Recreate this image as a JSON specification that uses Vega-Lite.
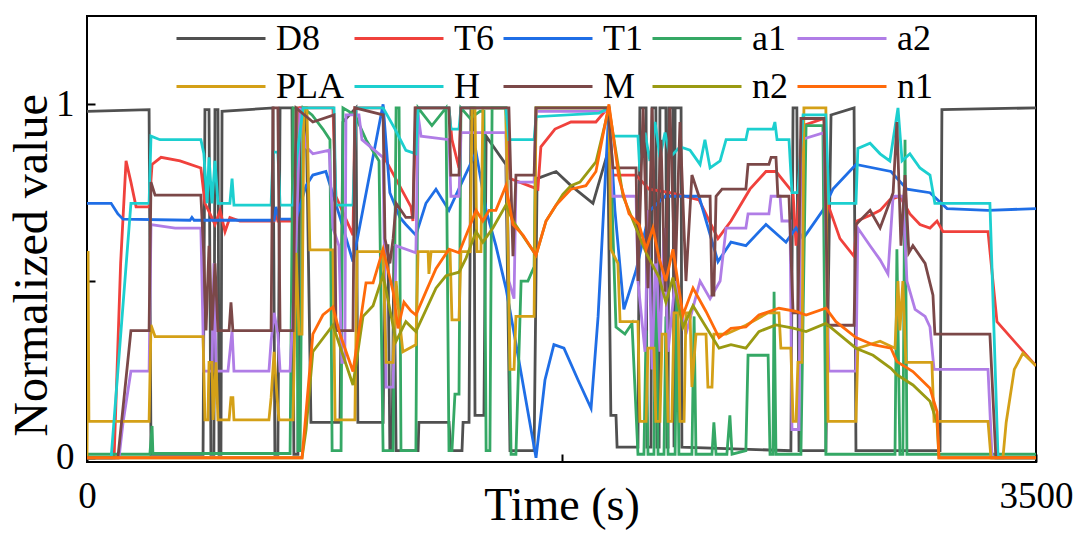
{
  "$schema": "https://vega.github.io/schema/vega-lite/v6.json",
  "width": 949,
  "height": 446,
  "autosize": {"type": "none"},
  "padding": {"left": 87, "top": 16, "right": 44, "bottom": 75},
  "background": "white",
  "data": {
    "values": [
      {"s":"D8","t":0,"v":0.98},{"s":"D8","t":229,"v":0.985},{"s":"D8","t":236,"v":0.01},{"s":"D8","t":428,"v":0.01},{"s":"D8","t":435,"v":0.985},{"s":"D8","t":450,"v":0.985},{"s":"D8","t":457,"v":0.01},{"s":"D8","t":468,"v":0.01},{"s":"D8","t":472,"v":0.985},{"s":"D8","t":483,"v":0.985},{"s":"D8","t":487,"v":0.01},{"s":"D8","t":494,"v":0.01},{"s":"D8","t":498,"v":0.98},{"s":"D8","t":686,"v":0.99},{"s":"D8","t":693,"v":0.01},{"s":"D8","t":704,"v":0.01},{"s":"D8","t":712,"v":0.99},{"s":"D8","t":756,"v":0.99},{"s":"D8","t":763,"v":0.01},{"s":"D8","t":778,"v":0.01},{"s":"D8","t":786,"v":0.99},{"s":"D8","t":808,"v":0.99},{"s":"D8","t":826,"v":0.1},{"s":"D8","t":933,"v":0.1},{"s":"D8","t":944,"v":0.95},{"s":"D8","t":992,"v":0.99},{"s":"D8","t":999,"v":0.1},{"s":"D8","t":1092,"v":0.1},{"s":"D8","t":1099,"v":0.6},{"s":"D8","t":1110,"v":0.6},{"s":"D8","t":1117,"v":0.02},{"s":"D8","t":1125,"v":0.02},{"s":"D8","t":1132,"v":0.6},{"s":"D8","t":1140,"v":0.02},{"s":"D8","t":1221,"v":0.02},{"s":"D8","t":1224,"v":0.1},{"s":"D8","t":1335,"v":0.1},{"s":"D8","t":1342,"v":0.02},{"s":"D8","t":1383,"v":0.02},{"s":"D8","t":1387,"v":0.1},{"s":"D8","t":1409,"v":0.1},{"s":"D8","t":1416,"v":0.99},{"s":"D8","t":1427,"v":0.99},{"s":"D8","t":1431,"v":0.12},{"s":"D8","t":1464,"v":0.12},{"s":"D8","t":1472,"v":0.91},{"s":"D8","t":1545,"v":0.83},{"s":"D8","t":1560,"v":0.02},{"s":"D8","t":1649,"v":0.02},{"s":"D8","t":1660,"v":0.79},{"s":"D8","t":1730,"v":0.81},{"s":"D8","t":1785,"v":0.77},{"s":"D8","t":1866,"v":0.72},{"s":"D8","t":1921,"v":0.865},{"s":"D8","t":1932,"v":0.12},{"s":"D8","t":1951,"v":0.12},{"s":"D8","t":1955,"v":0.03},{"s":"D8","t":2032,"v":0.03},{"s":"D8","t":2039,"v":0.99},{"s":"D8","t":2062,"v":0.99},{"s":"D8","t":2065,"v":0.03},{"s":"D8","t":2080,"v":0.03},{"s":"D8","t":2084,"v":0.99},{"s":"D8","t":2098,"v":0.99},{"s":"D8","t":2102,"v":0.03},{"s":"D8","t":2110,"v":0.03},{"s":"D8","t":2113,"v":0.99},{"s":"D8","t":2135,"v":0.99},{"s":"D8","t":2139,"v":0.03},{"s":"D8","t":2143,"v":0.03},{"s":"D8","t":2146,"v":0.99},{"s":"D8","t":2161,"v":0.99},{"s":"D8","t":2165,"v":0.03},{"s":"D8","t":2169,"v":0.99},{"s":"D8","t":2191,"v":0.99},{"s":"D8","t":2194,"v":0.03},{"s":"D8","t":2596,"v":0.02},{"s":"D8","t":2604,"v":0.99},{"s":"D8","t":2618,"v":0.99},{"s":"D8","t":2626,"v":0.02},{"s":"D8","t":2725,"v":0.02},{"s":"D8","t":2744,"v":0.97},{"s":"D8","t":2829,"v":0.99},{"s":"D8","t":2836,"v":0.02},{"s":"D8","t":3146,"v":0.02},{"s":"D8","t":3153,"v":0.985},{"s":"D8","t":3500,"v":0.99},

      {"s":"T6","t":0,"v":0},{"s":"T6","t":100,"v":0},{"s":"T6","t":124,"v":0.55},{"s":"T6","t":144,"v":0.84},{"s":"T6","t":162,"v":0.78},{"s":"T6","t":181,"v":0.71},{"s":"T6","t":229,"v":0.71},{"s":"T6","t":240,"v":0.83},{"s":"T6","t":273,"v":0.85},{"s":"T6","t":343,"v":0.84},{"s":"T6","t":420,"v":0.82},{"s":"T6","t":435,"v":0.72},{"s":"T6","t":454,"v":0.69},{"s":"T6","t":472,"v":0.66},{"s":"T6","t":491,"v":0.7},{"s":"T6","t":509,"v":0.64},{"s":"T6","t":527,"v":0.68},{"s":"T6","t":564,"v":0.67},{"s":"T6","t":690,"v":0.67},{"s":"T6","t":697,"v":0.69},{"s":"T6","t":704,"v":0.67},{"s":"T6","t":767,"v":0.67},{"s":"T6","t":778,"v":0.99},{"s":"T6","t":907,"v":0.99},{"s":"T6","t":918,"v":0.74},{"s":"T6","t":981,"v":0.63},{"s":"T6","t":988,"v":0.99},{"s":"T6","t":1092,"v":0.99},{"s":"T6","t":1103,"v":0.84},{"s":"T6","t":1195,"v":0.71},{"s":"T6","t":1202,"v":0.67},{"s":"T6","t":1213,"v":0.99},{"s":"T6","t":1335,"v":0.99},{"s":"T6","t":1346,"v":0.9},{"s":"T6","t":1372,"v":0.82},{"s":"T6","t":1379,"v":0.99},{"s":"T6","t":1545,"v":0.99},{"s":"T6","t":1560,"v":0.79},{"s":"T6","t":1663,"v":0.76},{"s":"T6","t":1674,"v":0.88},{"s":"T6","t":1726,"v":0.93},{"s":"T6","t":1785,"v":0.95},{"s":"T6","t":1877,"v":0.95},{"s":"T6","t":1921,"v":0.99},{"s":"T6","t":1932,"v":0.8},{"s":"T6","t":2025,"v":0.8},{"s":"T6","t":2073,"v":0.76},{"s":"T6","t":2150,"v":0.75},{"s":"T6","t":2257,"v":0.73},{"s":"T6","t":2327,"v":0.62},{"s":"T6","t":2375,"v":0.67},{"s":"T6","t":2445,"v":0.76},{"s":"T6","t":2504,"v":0.81},{"s":"T6","t":2541,"v":0.81},{"s":"T6","t":2604,"v":0.75},{"s":"T6","t":2615,"v":0.6},{"s":"T6","t":2641,"v":0.94},{"s":"T6","t":2718,"v":0.96},{"s":"T6","t":2736,"v":0.71},{"s":"T6","t":2777,"v":0.62},{"s":"T6","t":2829,"v":0.57},{"s":"T6","t":2840,"v":0.67},{"s":"T6","t":2899,"v":0.69},{"s":"T6","t":2925,"v":0.7},{"s":"T6","t":2961,"v":0.73},{"s":"T6","t":2998,"v":0.74},{"s":"T6","t":3035,"v":0.69},{"s":"T6","t":3072,"v":0.66},{"s":"T6","t":3109,"v":0.65},{"s":"T6","t":3135,"v":0.67},{"s":"T6","t":3157,"v":0.64},{"s":"T6","t":3323,"v":0.64},{"s":"T6","t":3356,"v":0.385},{"s":"T6","t":3500,"v":0.26},

      {"s":"T1","t":0,"v":0.72},{"s":"T1","t":89,"v":0.72},{"s":"T1","t":114,"v":0.69},{"s":"T1","t":133,"v":0.675},{"s":"T1","t":380,"v":0.672},{"s":"T1","t":387,"v":0.68},{"s":"T1","t":395,"v":0.672},{"s":"T1","t":690,"v":0.672},{"s":"T1","t":697,"v":0.71},{"s":"T1","t":708,"v":0.675},{"s":"T1","t":771,"v":0.675},{"s":"T1","t":808,"v":0.77},{"s":"T1","t":833,"v":0.8},{"s":"T1","t":881,"v":0.81},{"s":"T1","t":933,"v":0.68},{"s":"T1","t":981,"v":0.555},{"s":"T1","t":1092,"v":1.0},{"s":"T1","t":1117,"v":0.75},{"s":"T1","t":1154,"v":0.68},{"s":"T1","t":1176,"v":0.66},{"s":"T1","t":1213,"v":0.63},{"s":"T1","t":1250,"v":0.72},{"s":"T1","t":1287,"v":0.76},{"s":"T1","t":1335,"v":0.7},{"s":"T1","t":1383,"v":0.78},{"s":"T1","t":1435,"v":0.865},{"s":"T1","t":1472,"v":0.7},{"s":"T1","t":1508,"v":0.6},{"s":"T1","t":1545,"v":0.48},{"s":"T1","t":1571,"v":0.37},{"s":"T1","t":1656,"v":0.0},{"s":"T1","t":1689,"v":0.22},{"s":"T1","t":1722,"v":0.32},{"s":"T1","t":1759,"v":0.31},{"s":"T1","t":1811,"v":0.22},{"s":"T1","t":1859,"v":0.14},{"s":"T1","t":1885,"v":0.4},{"s":"T1","t":1925,"v":0.99},{"s":"T1","t":1947,"v":0.7},{"s":"T1","t":1980,"v":0.42},{"s":"T1","t":2025,"v":0.53},{"s":"T1","t":2076,"v":0.7},{"s":"T1","t":2132,"v":0.74},{"s":"T1","t":2257,"v":0.74},{"s":"T1","t":2327,"v":0.555},{"s":"T1","t":2375,"v":0.61},{"s":"T1","t":2430,"v":0.6},{"s":"T1","t":2504,"v":0.66},{"s":"T1","t":2578,"v":0.61},{"s":"T1","t":2615,"v":0.65},{"s":"T1","t":2641,"v":0.62},{"s":"T1","t":2714,"v":0.7},{"s":"T1","t":2751,"v":0.76},{"s":"T1","t":2836,"v":0.83},{"s":"T1","t":2965,"v":0.81},{"s":"T1","t":3024,"v":0.76},{"s":"T1","t":3109,"v":0.75},{"s":"T1","t":3172,"v":0.705},{"s":"T1","t":3323,"v":0.7},{"s":"T1","t":3500,"v":0.705},

      {"s":"a1","t":0,"v":0.01},{"s":"a1","t":232,"v":0.01},{"s":"a1","t":240,"v":0.09},{"s":"a1","t":243,"v":0.012},{"s":"a1","t":749,"v":0.012},{"s":"a1","t":760,"v":0.99},{"s":"a1","t":771,"v":0.99},{"s":"a1","t":778,"v":0.02},{"s":"a1","t":786,"v":0.02},{"s":"a1","t":797,"v":0.99},{"s":"a1","t":830,"v":0.97},{"s":"a1","t":870,"v":0.93},{"s":"a1","t":896,"v":0.9},{"s":"a1","t":904,"v":0.02},{"s":"a1","t":937,"v":0.02},{"s":"a1","t":944,"v":0.99},{"s":"a1","t":988,"v":0.97},{"s":"a1","t":1029,"v":0.9},{"s":"a1","t":1077,"v":0.84},{"s":"a1","t":1092,"v":0.02},{"s":"a1","t":1129,"v":0.02},{"s":"a1","t":1140,"v":0.99},{"s":"a1","t":1151,"v":0.99},{"s":"a1","t":1158,"v":0.02},{"s":"a1","t":1213,"v":0.02},{"s":"a1","t":1221,"v":0.99},{"s":"a1","t":1272,"v":0.94},{"s":"a1","t":1324,"v":0.99},{"s":"a1","t":1335,"v":0.02},{"s":"a1","t":1346,"v":0.02},{"s":"a1","t":1357,"v":0.18},{"s":"a1","t":1372,"v":0.18},{"s":"a1","t":1379,"v":0.99},{"s":"a1","t":1413,"v":0.96},{"s":"a1","t":1449,"v":0.98},{"s":"a1","t":1464,"v":0.98},{"s":"a1","t":1472,"v":0.02},{"s":"a1","t":1486,"v":0.02},{"s":"a1","t":1494,"v":0.99},{"s":"a1","t":1545,"v":0.99},{"s":"a1","t":1564,"v":0.01},{"s":"a1","t":1582,"v":0.01},{"s":"a1","t":1601,"v":0.5},{"s":"a1","t":1626,"v":0.5},{"s":"a1","t":1649,"v":0.54},{"s":"a1","t":1656,"v":0.99},{"s":"a1","t":1925,"v":0.99},{"s":"a1","t":1951,"v":0.37},{"s":"a1","t":1984,"v":0.35},{"s":"a1","t":2010,"v":0.38},{"s":"a1","t":2032,"v":0.01},{"s":"a1","t":2054,"v":0.01},{"s":"a1","t":2062,"v":0.36},{"s":"a1","t":2069,"v":0.01},{"s":"a1","t":2091,"v":0.01},{"s":"a1","t":2098,"v":0.6},{"s":"a1","t":2106,"v":0.01},{"s":"a1","t":2128,"v":0.01},{"s":"a1","t":2135,"v":0.4},{"s":"a1","t":2143,"v":0.01},{"s":"a1","t":2169,"v":0.01},{"s":"a1","t":2176,"v":0.5},{"s":"a1","t":2183,"v":0.01},{"s":"a1","t":2231,"v":0.01},{"s":"a1","t":2239,"v":0.4},{"s":"a1","t":2246,"v":0.01},{"s":"a1","t":2305,"v":0.01},{"s":"a1","t":2312,"v":0.1},{"s":"a1","t":2320,"v":0.01},{"s":"a1","t":2360,"v":0.01},{"s":"a1","t":2371,"v":0.12},{"s":"a1","t":2379,"v":0.01},{"s":"a1","t":2430,"v":0.02},{"s":"a1","t":2438,"v":0.29},{"s":"a1","t":2512,"v":0.29},{"s":"a1","t":2519,"v":0.01},{"s":"a1","t":2530,"v":0.01},{"s":"a1","t":2534,"v":0.47},{"s":"a1","t":2541,"v":0.01},{"s":"a1","t":2633,"v":0.01},{"s":"a1","t":2652,"v":0.94},{"s":"a1","t":2714,"v":0.94},{"s":"a1","t":2725,"v":0.01},{"s":"a1","t":2980,"v":0.01},{"s":"a1","t":2987,"v":0.59},{"s":"a1","t":2998,"v":0.01},{"s":"a1","t":3009,"v":0.01},{"s":"a1","t":3017,"v":0.9},{"s":"a1","t":3024,"v":0.01},{"s":"a1","t":3500,"v":0.01},

      {"s":"a2","t":0,"v":0},{"s":"a2","t":118,"v":0},{"s":"a2","t":133,"v":0.1},{"s":"a2","t":162,"v":0.245},{"s":"a2","t":229,"v":0.245},{"s":"a2","t":236,"v":0.66},{"s":"a2","t":325,"v":0.65},{"s":"a2","t":420,"v":0.65},{"s":"a2","t":431,"v":0.245},{"s":"a2","t":461,"v":0.245},{"s":"a2","t":468,"v":0.55},{"s":"a2","t":476,"v":0.245},{"s":"a2","t":520,"v":0.245},{"s":"a2","t":535,"v":0.36},{"s":"a2","t":542,"v":0.245},{"s":"a2","t":671,"v":0.245},{"s":"a2","t":679,"v":0.33},{"s":"a2","t":690,"v":0.41},{"s":"a2","t":704,"v":0.35},{"s":"a2","t":712,"v":0.245},{"s":"a2","t":749,"v":0.245},{"s":"a2","t":771,"v":0.6},{"s":"a2","t":786,"v":0.99},{"s":"a2","t":808,"v":0.88},{"s":"a2","t":833,"v":0.86},{"s":"a2","t":893,"v":0.87},{"s":"a2","t":907,"v":0.65},{"s":"a2","t":929,"v":0.6},{"s":"a2","t":940,"v":0.27},{"s":"a2","t":951,"v":0.27},{"s":"a2","t":955,"v":0.97},{"s":"a2","t":1003,"v":0.97},{"s":"a2","t":1014,"v":0.9},{"s":"a2","t":1092,"v":0.85},{"s":"a2","t":1103,"v":0.2},{"s":"a2","t":1129,"v":0.2},{"s":"a2","t":1140,"v":0.6},{"s":"a2","t":1213,"v":0.58},{"s":"a2","t":1221,"v":0.97},{"s":"a2","t":1232,"v":0.91},{"s":"a2","t":1335,"v":0.9},{"s":"a2","t":1342,"v":0.74},{"s":"a2","t":1372,"v":0.74},{"s":"a2","t":1379,"v":0.92},{"s":"a2","t":1545,"v":0.92},{"s":"a2","t":1556,"v":0.5},{"s":"a2","t":1575,"v":0.45},{"s":"a2","t":1582,"v":0.78},{"s":"a2","t":1649,"v":0.78},{"s":"a2","t":1656,"v":0.98},{"s":"a2","t":1921,"v":0.98},{"s":"a2","t":1925,"v":0.99},{"s":"a2","t":1936,"v":0.74},{"s":"a2","t":2025,"v":0.74},{"s":"a2","t":2032,"v":0.5},{"s":"a2","t":2058,"v":0.3},{"s":"a2","t":2069,"v":0.7},{"s":"a2","t":2084,"v":0.25},{"s":"a2","t":2098,"v":0.6},{"s":"a2","t":2113,"v":0.3},{"s":"a2","t":2128,"v":0.65},{"s":"a2","t":2143,"v":0.3},{"s":"a2","t":2169,"v":0.5},{"s":"a2","t":2209,"v":0.35},{"s":"a2","t":2261,"v":0.5},{"s":"a2","t":2298,"v":0.45},{"s":"a2","t":2335,"v":0.5},{"s":"a2","t":2357,"v":0.65},{"s":"a2","t":2430,"v":0.65},{"s":"a2","t":2438,"v":0.69},{"s":"a2","t":2515,"v":0.69},{"s":"a2","t":2523,"v":0.74},{"s":"a2","t":2556,"v":0.74},{"s":"a2","t":2563,"v":0.67},{"s":"a2","t":2593,"v":0.67},{"s":"a2","t":2600,"v":0.08},{"s":"a2","t":2626,"v":0.08},{"s":"a2","t":2633,"v":0.9},{"s":"a2","t":2718,"v":0.92},{"s":"a2","t":2736,"v":0.245},{"s":"a2","t":2836,"v":0.245},{"s":"a2","t":2843,"v":0.65},{"s":"a2","t":2888,"v":0.6},{"s":"a2","t":2925,"v":0.56},{"s":"a2","t":2954,"v":0.52},{"s":"a2","t":2973,"v":0.74},{"s":"a2","t":3009,"v":0.74},{"s":"a2","t":3024,"v":0.5},{"s":"a2","t":3054,"v":0.42},{"s":"a2","t":3091,"v":0.4},{"s":"a2","t":3109,"v":0.37},{"s":"a2","t":3124,"v":0.25},{"s":"a2","t":3323,"v":0.25},{"s":"a2","t":3338,"v":0},{"s":"a2","t":3500,"v":0},

      {"s":"PLA","t":0,"v":0},{"s":"PLA","t":4,"v":0.585},{"s":"PLA","t":7,"v":0.103},{"s":"PLA","t":229,"v":0.103},{"s":"PLA","t":236,"v":0.376},{"s":"PLA","t":251,"v":0.343},{"s":"PLA","t":428,"v":0.343},{"s":"PLA","t":435,"v":0.107},{"s":"PLA","t":446,"v":0.107},{"s":"PLA","t":450,"v":0.27},{"s":"PLA","t":461,"v":0.27},{"s":"PLA","t":465,"v":0.107},{"s":"PLA","t":476,"v":0.27},{"s":"PLA","t":483,"v":0.107},{"s":"PLA","t":524,"v":0.107},{"s":"PLA","t":531,"v":0.17},{"s":"PLA","t":538,"v":0.17},{"s":"PLA","t":542,"v":0.107},{"s":"PLA","t":671,"v":0.107},{"s":"PLA","t":679,"v":0.17},{"s":"PLA","t":690,"v":0.3},{"s":"PLA","t":701,"v":0.17},{"s":"PLA","t":708,"v":0.107},{"s":"PLA","t":760,"v":0.107},{"s":"PLA","t":771,"v":0.58},{"s":"PLA","t":782,"v":0.35},{"s":"PLA","t":793,"v":0.35},{"s":"PLA","t":800,"v":0.99},{"s":"PLA","t":811,"v":0.99},{"s":"PLA","t":822,"v":0.588},{"s":"PLA","t":907,"v":0.588},{"s":"PLA","t":915,"v":0.107},{"s":"PLA","t":988,"v":0.107},{"s":"PLA","t":996,"v":0.583},{"s":"PLA","t":1092,"v":0.583},{"s":"PLA","t":1103,"v":0.27},{"s":"PLA","t":1129,"v":0.27},{"s":"PLA","t":1140,"v":0.5},{"s":"PLA","t":1151,"v":0.4},{"s":"PLA","t":1165,"v":0.3},{"s":"PLA","t":1213,"v":0.32},{"s":"PLA","t":1221,"v":0.583},{"s":"PLA","t":1258,"v":0.583},{"s":"PLA","t":1261,"v":0.52},{"s":"PLA","t":1269,"v":0.583},{"s":"PLA","t":1339,"v":0.583},{"s":"PLA","t":1346,"v":0.39},{"s":"PLA","t":1372,"v":0.39},{"s":"PLA","t":1379,"v":0.583},{"s":"PLA","t":1413,"v":0.583},{"s":"PLA","t":1420,"v":0.99},{"s":"PLA","t":1431,"v":0.99},{"s":"PLA","t":1438,"v":0.583},{"s":"PLA","t":1453,"v":0.583},{"s":"PLA","t":1460,"v":0.99},{"s":"PLA","t":1545,"v":0.99},{"s":"PLA","t":1560,"v":0.25},{"s":"PLA","t":1575,"v":0.25},{"s":"PLA","t":1582,"v":0.4},{"s":"PLA","t":1649,"v":0.4},{"s":"PLA","t":1656,"v":0.99},{"s":"PLA","t":1925,"v":0.99},{"s":"PLA","t":1932,"v":0.59},{"s":"PLA","t":1958,"v":0.55},{"s":"PLA","t":1966,"v":0.385},{"s":"PLA","t":2032,"v":0.385},{"s":"PLA","t":2039,"v":0.103},{"s":"PLA","t":2062,"v":0.103},{"s":"PLA","t":2069,"v":0.31},{"s":"PLA","t":2091,"v":0.31},{"s":"PLA","t":2098,"v":0.103},{"s":"PLA","t":2113,"v":0.103},{"s":"PLA","t":2121,"v":0.35},{"s":"PLA","t":2135,"v":0.35},{"s":"PLA","t":2143,"v":0.103},{"s":"PLA","t":2157,"v":0.103},{"s":"PLA","t":2165,"v":0.41},{"s":"PLA","t":2180,"v":0.41},{"s":"PLA","t":2187,"v":0.103},{"s":"PLA","t":2202,"v":0.103},{"s":"PLA","t":2209,"v":0.41},{"s":"PLA","t":2224,"v":0.41},{"s":"PLA","t":2231,"v":0.2},{"s":"PLA","t":2246,"v":0.35},{"s":"PLA","t":2283,"v":0.35},{"s":"PLA","t":2290,"v":0.2},{"s":"PLA","t":2305,"v":0.2},{"s":"PLA","t":2312,"v":0.35},{"s":"PLA","t":2357,"v":0.35},{"s":"PLA","t":2430,"v":0.375},{"s":"PLA","t":2512,"v":0.41},{"s":"PLA","t":2552,"v":0.41},{"s":"PLA","t":2559,"v":0.31},{"s":"PLA","t":2596,"v":0.31},{"s":"PLA","t":2604,"v":0.103},{"s":"PLA","t":2615,"v":0.103},{"s":"PLA","t":2622,"v":0.27},{"s":"PLA","t":2637,"v":0.27},{"s":"PLA","t":2644,"v":0.99},{"s":"PLA","t":2725,"v":0.99},{"s":"PLA","t":2733,"v":0.103},{"s":"PLA","t":2836,"v":0.103},{"s":"PLA","t":2843,"v":0.31},{"s":"PLA","t":2925,"v":0.33},{"s":"PLA","t":2980,"v":0.31},{"s":"PLA","t":2991,"v":0.5},{"s":"PLA","t":2998,"v":0.36},{"s":"PLA","t":3009,"v":0.5},{"s":"PLA","t":3020,"v":0.27},{"s":"PLA","t":3116,"v":0.27},{"s":"PLA","t":3124,"v":0.103},{"s":"PLA","t":3323,"v":0.103},{"s":"PLA","t":3334,"v":0},{"s":"PLA","t":3378,"v":0},{"s":"PLA","t":3390,"v":0.1},{"s":"PLA","t":3420,"v":0.25},{"s":"PLA","t":3452,"v":0.296},{"s":"PLA","t":3500,"v":0.26},

      {"s":"H","t":0,"v":0},{"s":"H","t":89,"v":0},{"s":"H","t":162,"v":0.72},{"s":"H","t":229,"v":0.72},{"s":"H","t":236,"v":0.91},{"s":"H","t":269,"v":0.9},{"s":"H","t":420,"v":0.9},{"s":"H","t":431,"v":0.86},{"s":"H","t":443,"v":0.72},{"s":"H","t":450,"v":0.85},{"s":"H","t":461,"v":0.72},{"s":"H","t":472,"v":0.84},{"s":"H","t":483,"v":0.72},{"s":"H","t":527,"v":0.72},{"s":"H","t":535,"v":0.79},{"s":"H","t":542,"v":0.715},{"s":"H","t":679,"v":0.715},{"s":"H","t":686,"v":0.865},{"s":"H","t":704,"v":0.865},{"s":"H","t":712,"v":0.715},{"s":"H","t":760,"v":0.715},{"s":"H","t":774,"v":0.85},{"s":"H","t":797,"v":0.99},{"s":"H","t":911,"v":0.99},{"s":"H","t":918,"v":0.715},{"s":"H","t":981,"v":0.715},{"s":"H","t":992,"v":0.99},{"s":"H","t":1092,"v":0.99},{"s":"H","t":1136,"v":0.93},{"s":"H","t":1176,"v":0.87},{"s":"H","t":1213,"v":0.86},{"s":"H","t":1221,"v":0.99},{"s":"H","t":1335,"v":0.99},{"s":"H","t":1342,"v":0.93},{"s":"H","t":1372,"v":0.93},{"s":"H","t":1379,"v":0.99},{"s":"H","t":1545,"v":0.99},{"s":"H","t":1556,"v":0.9},{"s":"H","t":1649,"v":0.9},{"s":"H","t":1656,"v":0.965},{"s":"H","t":1888,"v":0.975},{"s":"H","t":1925,"v":0.99},{"s":"H","t":1936,"v":0.91},{"s":"H","t":2032,"v":0.91},{"s":"H","t":2039,"v":0.81},{"s":"H","t":2058,"v":0.92},{"s":"H","t":2076,"v":0.84},{"s":"H","t":2095,"v":0.95},{"s":"H","t":2113,"v":0.85},{"s":"H","t":2132,"v":0.92},{"s":"H","t":2150,"v":0.85},{"s":"H","t":2187,"v":0.88},{"s":"H","t":2224,"v":0.87},{"s":"H","t":2261,"v":0.83},{"s":"H","t":2279,"v":0.9},{"s":"H","t":2298,"v":0.82},{"s":"H","t":2335,"v":0.84},{"s":"H","t":2357,"v":0.9},{"s":"H","t":2430,"v":0.9},{"s":"H","t":2438,"v":0.93},{"s":"H","t":2530,"v":0.93},{"s":"H","t":2537,"v":0.95},{"s":"H","t":2545,"v":0.9},{"s":"H","t":2589,"v":0.9},{"s":"H","t":2600,"v":0.75},{"s":"H","t":2622,"v":0.75},{"s":"H","t":2641,"v":0.97},{"s":"H","t":2725,"v":0.97},{"s":"H","t":2736,"v":0.72},{"s":"H","t":2836,"v":0.72},{"s":"H","t":2843,"v":0.875},{"s":"H","t":2888,"v":0.89},{"s":"H","t":2925,"v":0.86},{"s":"H","t":2961,"v":0.84},{"s":"H","t":2991,"v":0.99},{"s":"H","t":3006,"v":0.84},{"s":"H","t":3035,"v":0.86},{"s":"H","t":3072,"v":0.82},{"s":"H","t":3109,"v":0.8},{"s":"H","t":3127,"v":0.72},{"s":"H","t":3330,"v":0.72},{"s":"H","t":3360,"v":0},{"s":"H","t":3500,"v":0},

      {"s":"M","t":0,"v":0},{"s":"M","t":114,"v":0},{"s":"M","t":162,"v":0.36},{"s":"M","t":229,"v":0.36},{"s":"M","t":236,"v":0.78},{"s":"M","t":251,"v":0.743},{"s":"M","t":420,"v":0.743},{"s":"M","t":431,"v":0.57},{"s":"M","t":439,"v":0.36},{"s":"M","t":450,"v":0.6},{"s":"M","t":461,"v":0.36},{"s":"M","t":472,"v":0.55},{"s":"M","t":483,"v":0.36},{"s":"M","t":524,"v":0.36},{"s":"M","t":531,"v":0.44},{"s":"M","t":538,"v":0.36},{"s":"M","t":679,"v":0.36},{"s":"M","t":686,"v":0.99},{"s":"M","t":704,"v":0.99},{"s":"M","t":712,"v":0.36},{"s":"M","t":760,"v":0.36},{"s":"M","t":771,"v":0.99},{"s":"M","t":833,"v":0.95},{"s":"M","t":911,"v":0.97},{"s":"M","t":918,"v":0.36},{"s":"M","t":981,"v":0.36},{"s":"M","t":988,"v":0.99},{"s":"M","t":1092,"v":0.97},{"s":"M","t":1099,"v":0.62},{"s":"M","t":1117,"v":0.55},{"s":"M","t":1129,"v":0.62},{"s":"M","t":1140,"v":0.72},{"s":"M","t":1176,"v":0.68},{"s":"M","t":1202,"v":0.68},{"s":"M","t":1210,"v":0.99},{"s":"M","t":1335,"v":0.99},{"s":"M","t":1342,"v":0.8},{"s":"M","t":1372,"v":0.8},{"s":"M","t":1379,"v":0.99},{"s":"M","t":1556,"v":0.99},{"s":"M","t":1571,"v":0.57},{"s":"M","t":1582,"v":0.8},{"s":"M","t":1649,"v":0.8},{"s":"M","t":1656,"v":0.99},{"s":"M","t":1921,"v":0.99},{"s":"M","t":1940,"v":0.82},{"s":"M","t":2025,"v":0.82},{"s":"M","t":2032,"v":0.5},{"s":"M","t":2051,"v":0.99},{"s":"M","t":2069,"v":0.48},{"s":"M","t":2084,"v":0.99},{"s":"M","t":2098,"v":0.55},{"s":"M","t":2117,"v":0.9},{"s":"M","t":2132,"v":0.47},{"s":"M","t":2150,"v":0.99},{"s":"M","t":2169,"v":0.5},{"s":"M","t":2187,"v":0.95},{"s":"M","t":2209,"v":0.5},{"s":"M","t":2231,"v":0.8},{"s":"M","t":2257,"v":0.74},{"s":"M","t":2298,"v":0.74},{"s":"M","t":2305,"v":0.46},{"s":"M","t":2312,"v":0.46},{"s":"M","t":2320,"v":0.74},{"s":"M","t":2342,"v":0.76},{"s":"M","t":2430,"v":0.76},{"s":"M","t":2438,"v":0.83},{"s":"M","t":2515,"v":0.83},{"s":"M","t":2523,"v":0.85},{"s":"M","t":2541,"v":0.85},{"s":"M","t":2548,"v":0.74},{"s":"M","t":2589,"v":0.74},{"s":"M","t":2604,"v":0.41},{"s":"M","t":2622,"v":0.41},{"s":"M","t":2633,"v":0.96},{"s":"M","t":2718,"v":0.96},{"s":"M","t":2733,"v":0.375},{"s":"M","t":2829,"v":0.375},{"s":"M","t":2836,"v":0.66},{"s":"M","t":2888,"v":0.7},{"s":"M","t":2925,"v":0.65},{"s":"M","t":2973,"v":0.75},{"s":"M","t":2987,"v":0.95},{"s":"M","t":3002,"v":0.6},{"s":"M","t":3017,"v":0.8},{"s":"M","t":3031,"v":0.58},{"s":"M","t":3046,"v":0.6},{"s":"M","t":3091,"v":0.55},{"s":"M","t":3120,"v":0.46},{"s":"M","t":3127,"v":0.35},{"s":"M","t":3330,"v":0.35},{"s":"M","t":3352,"v":0},{"s":"M","t":3500,"v":0},

      {"s":"n2","t":0,"v":0},{"s":"n2","t":793,"v":0},{"s":"n2","t":808,"v":0.08},{"s":"n2","t":833,"v":0.3},{"s":"n2","t":907,"v":0.375},{"s":"n2","t":981,"v":0.206},{"s":"n2","t":1018,"v":0.4},{"s":"n2","t":1055,"v":0.43},{"s":"n2","t":1092,"v":0.517},{"s":"n2","t":1140,"v":0.33},{"s":"n2","t":1176,"v":0.385},{"s":"n2","t":1213,"v":0.357},{"s":"n2","t":1287,"v":0.48},{"s":"n2","t":1324,"v":0.515},{"s":"n2","t":1372,"v":0.525},{"s":"n2","t":1398,"v":0.565},{"s":"n2","t":1435,"v":0.64},{"s":"n2","t":1460,"v":0.61},{"s":"n2","t":1497,"v":0.65},{"s":"n2","t":1545,"v":0.715},{"s":"n2","t":1571,"v":0.67},{"s":"n2","t":1656,"v":0.573},{"s":"n2","t":1693,"v":0.67},{"s":"n2","t":1755,"v":0.745},{"s":"n2","t":1785,"v":0.77},{"s":"n2","t":1818,"v":0.78},{"s":"n2","t":1877,"v":0.837},{"s":"n2","t":1925,"v":0.99},{"s":"n2","t":1977,"v":0.74},{"s":"n2","t":2025,"v":0.65},{"s":"n2","t":2062,"v":0.58},{"s":"n2","t":2110,"v":0.51},{"s":"n2","t":2135,"v":0.44},{"s":"n2","t":2161,"v":0.51},{"s":"n2","t":2198,"v":0.37},{"s":"n2","t":2235,"v":0.43},{"s":"n2","t":2283,"v":0.37},{"s":"n2","t":2331,"v":0.31},{"s":"n2","t":2375,"v":0.32},{"s":"n2","t":2430,"v":0.31},{"s":"n2","t":2478,"v":0.357},{"s":"n2","t":2541,"v":0.376},{"s":"n2","t":2604,"v":0.367},{"s":"n2","t":2652,"v":0.357},{"s":"n2","t":2725,"v":0.38},{"s":"n2","t":2773,"v":0.35},{"s":"n2","t":2836,"v":0.31},{"s":"n2","t":2899,"v":0.29},{"s":"n2","t":2965,"v":0.253},{"s":"n2","t":2987,"v":0.235},{"s":"n2","t":3046,"v":0.206},{"s":"n2","t":3109,"v":0.16},{"s":"n2","t":3135,"v":0.1},{"s":"n2","t":3142,"v":0},{"s":"n2","t":3500,"v":0},

      {"s":"n1","t":0,"v":0},{"s":"n1","t":793,"v":0},{"s":"n1","t":808,"v":0.13},{"s":"n1","t":833,"v":0.35},{"s":"n1","t":870,"v":0.404},{"s":"n1","t":907,"v":0.427},{"s":"n1","t":933,"v":0.35},{"s":"n1","t":981,"v":0.244},{"s":"n1","t":1007,"v":0.38},{"s":"n1","t":1029,"v":0.495},{"s":"n1","t":1055,"v":0.495},{"s":"n1","t":1092,"v":0.59},{"s":"n1","t":1129,"v":0.47},{"s":"n1","t":1147,"v":0.366},{"s":"n1","t":1169,"v":0.44},{"s":"n1","t":1195,"v":0.415},{"s":"n1","t":1213,"v":0.404},{"s":"n1","t":1250,"v":0.47},{"s":"n1","t":1287,"v":0.535},{"s":"n1","t":1335,"v":0.59},{"s":"n1","t":1372,"v":0.58},{"s":"n1","t":1409,"v":0.65},{"s":"n1","t":1435,"v":0.7},{"s":"n1","t":1460,"v":0.67},{"s":"n1","t":1483,"v":0.7},{"s":"n1","t":1508,"v":0.7},{"s":"n1","t":1545,"v":0.77},{"s":"n1","t":1571,"v":0.66},{"s":"n1","t":1608,"v":0.63},{"s":"n1","t":1656,"v":0.573},{"s":"n1","t":1693,"v":0.67},{"s":"n1","t":1730,"v":0.715},{"s":"n1","t":1785,"v":0.76},{"s":"n1","t":1840,"v":0.77},{"s":"n1","t":1877,"v":0.81},{"s":"n1","t":1925,"v":1.0},{"s":"n1","t":1962,"v":0.79},{"s":"n1","t":1999,"v":0.69},{"s":"n1","t":2036,"v":0.66},{"s":"n1","t":2062,"v":0.59},{"s":"n1","t":2087,"v":0.65},{"s":"n1","t":2110,"v":0.565},{"s":"n1","t":2135,"v":0.5},{"s":"n1","t":2161,"v":0.59},{"s":"n1","t":2198,"v":0.404},{"s":"n1","t":2235,"v":0.48},{"s":"n1","t":2283,"v":0.414},{"s":"n1","t":2331,"v":0.34},{"s":"n1","t":2375,"v":0.366},{"s":"n1","t":2430,"v":0.37},{"s":"n1","t":2478,"v":0.404},{"s":"n1","t":2552,"v":0.423},{"s":"n1","t":2615,"v":0.414},{"s":"n1","t":2652,"v":0.404},{"s":"n1","t":2725,"v":0.423},{"s":"n1","t":2762,"v":0.385},{"s":"n1","t":2836,"v":0.34},{"s":"n1","t":2899,"v":0.32},{"s":"n1","t":2965,"v":0.31},{"s":"n1","t":2987,"v":0.272},{"s":"n1","t":3046,"v":0.244},{"s":"n1","t":3109,"v":0.197},{"s":"n1","t":3135,"v":0.13},{"s":"n1","t":3142,"v":0},{"s":"n1","t":3500,"v":0}
    ]
  },
  "mark": {"type": "line", "strokeWidth": 2.8, "clip": true},
  "encoding": {
    "x": {
      "field": "t",
      "type": "quantitative",
      "scale": {"domain": [0, 3500], "nice": false, "zero": false},
      "axis": {
        "values": [0, 1750, 3500],
        "labelExpr": "datum.value == 1750 ? '' : datum.label",
        "format": "d",
        "title": "Time (s)",
        "grid": false,
        "domain": false,
        "tickSize": -8,
        "tickWidth": 2,
        "tickColor": "black",
        "labelFontSize": 37,
        "labelFont": "Liberation Serif",
        "labelColor": "black",
        "labelPadding": 24,
        "labelFlush": false,
        "labelOverlap": false,
        "labelBound": false,
        "titleFont": "Liberation Serif",
        "titleFontSize": 46,
        "titleFontWeight": "normal",
        "titleColor": "black",
        "titleBaseline": "alphabetic",
        "titleY": 57
      }
    },
    "y": {
      "field": "v",
      "type": "quantitative",
      "scale": {"domain": [-0.012, 1.25], "nice": false, "zero": false},
      "axis": {
        "values": [0, 0.5, 1],
        "labelExpr": "datum.value == 0.5 ? '' : datum.label",
        "format": "~g",
        "title": "Normalized value",
        "grid": false,
        "domain": false,
        "tickSize": -8,
        "tickWidth": 2,
        "tickColor": "black",
        "labelFontSize": 37,
        "labelFont": "Liberation Serif",
        "labelColor": "black",
        "labelPadding": 21,
        "labelOverlap": false,
        "labelBound": false,
        "titleFont": "Liberation Serif",
        "titleFontSize": 48,
        "titleFontWeight": "normal",
        "titleColor": "black",
        "titleAngle": 270,
        "titleBaseline": "alphabetic",
        "titleX": -41,
        "titleY": 249
      }
    },
    "color": {
      "field": "s",
      "type": "nominal",
      "scale": {
        "domain": ["D8", "T6", "T1", "a1", "a2", "PLA", "H", "M", "n2", "n1"],
        "range": ["#505050", "#f0413c", "#1f6ee6", "#35a865", "#b07de6", "#d4a017", "#1ccfcf", "#7b4848", "#9a9a12", "#ff6a0a"]
      },
      "legend": {
        "title": null,
        "orient": "none",
        "legendX": 88,
        "legendY": 4,
        "direction": "horizontal",
        "columns": 5,
        "padding": 0,
        "clipHeight": 37,
        "symbolType": "stroke",
        "symbolSize": 7921,
        "symbolStrokeWidth": 3,
        "labelFont": "Liberation Serif",
        "labelFontSize": 36,
        "labelColor": "black",
        "labelOffset": 9,
        "columnPadding": 8,
        "rowPadding": 11
      }
    }
  },
  "config": {
    "view": {"stroke": "black", "strokeWidth": 2}
  }
}
